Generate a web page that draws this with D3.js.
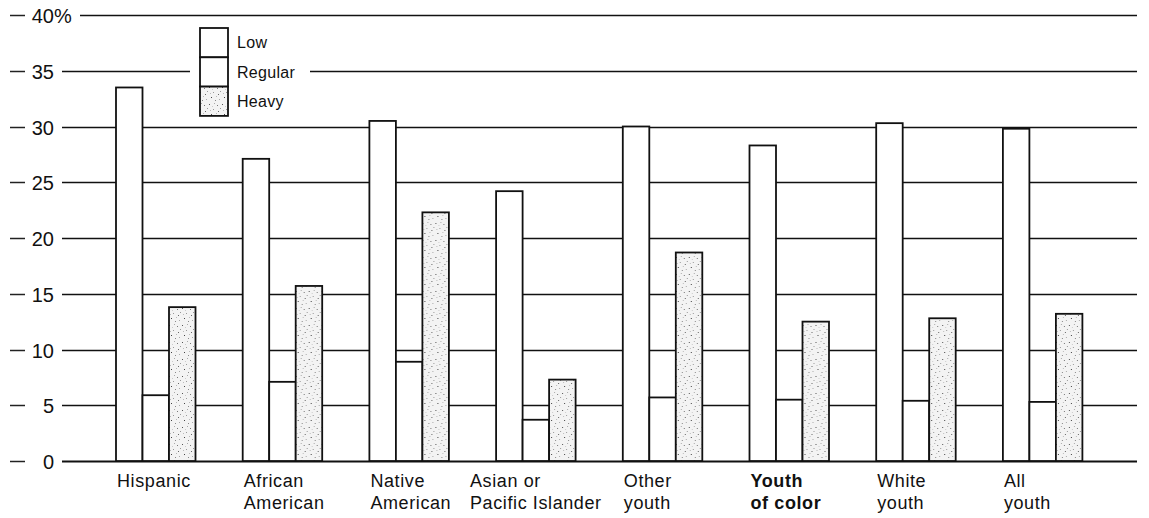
<!DOCTYPE html>
<html>
<head>
<meta charset="utf-8">
<script src="https://cdn.jsdelivr.net/npm/d3@7"></script>
<style>
  html, body { margin: 0; padding: 0; background: #fff; }
  svg { display: block; }
  text { font-family: "Liberation Sans", Arial, Helvetica, sans-serif; fill: #111; }
</style>
</head>
<body>
<script>
const categories = ["Hispanic", "African American", "Native American", "Asian or Pacific Islander", "Other youth", "Youth of color", "White youth", "All youth"];
const categoryLines = [["Hispanic"], ["African", "American"], ["Native", "American"], ["Asian or", "Pacific Islander"], ["Other", "youth"], ["Youth", "of color"], ["White", "youth"], ["All", "youth"]];
const boldCategory = "Youth of color";
const seriesNames = ["Low", "Regular", "Heavy"];
const lowValues = [33.5, 27.1, 30.5, 24.2, 30.0, 28.3, 30.3, 29.8];
const regularValues = [5.9, 7.1, 8.9, 3.7, 5.7, 5.5, 5.4, 5.3];
const heavyValues = [13.8, 15.7, 22.3, 7.3, 18.7, 12.5, 12.8, 13.2];
const yTicks = [0, 5, 10, 15, 20, 25, 30, 35, 40];

const W = 1149, H = 518;
const svg = d3.select("body").append("svg").attr("width", W).attr("height", H);

// stipple pattern for Heavy
const defs = svg.append("defs");
const pat = defs.append("pattern").attr("id", "stipple").attr("patternUnits", "userSpaceOnUse")
  .attr("width", 13).attr("height", 17);
pat.append("rect").attr("width", 13).attr("height", 17).attr("fill", "#f3f3f3");
const dots = [[1,2,"#555"],[5,7,"#999"],[9,3,"#777"],[3,12,"#444"],[11,14,"#aaa"],[7,15,"#888"],[2,8,"#bbb"],[10,9,"#666"],[6,1,"#aaa"],[12,6,"#999"],[4,4,"#ccc"],[8,11,"#bbb"]];
dots.forEach(d => pat.append("rect").attr("x", d[0]).attr("y", d[1]).attr("width", 1).attr("height", 1).attr("fill", d[2]));

const groupStep = 126.7, groupWidth = 79.5, left = 116;
const x0 = d3.scaleBand().domain(categories)
  .range([left, left + groupStep * (categories.length - 1) + groupWidth])
  .paddingInner(1 - groupWidth / groupStep).paddingOuter(0);
const x1 = d3.scaleBand().domain(seriesNames).range([0, x0.bandwidth()]).padding(0);
const y = d3.scaleLinear().domain([0, 40]).range([461, 15]);

const gridRight = 1137;
const fills = { Low: "#fff", Regular: "#fff", Heavy: "url(#stipple)" };

// y axis ticks, labels, gridlines
const labelRight = 54;
const yg = svg.append("g");
yTicks.forEach(t => {
  const yy = Math.round(y(t)) + 0.5;
  yg.append("line").attr("x1", 10).attr("x2", 25).attr("y1", yy).attr("y2", yy)
    .attr("stroke", "#222").attr("stroke-width", 1.5);
  yg.append("text").attr("x", labelRight).attr("y", yy).attr("dy", "0.36em")
    .attr("text-anchor", "end").attr("font-size", 20).text(t);
  let lineStart = 62;
  if (t === 40) {
    yg.append("text").attr("x", labelRight).attr("y", yy).attr("dy", "0.36em")
      .attr("font-size", 20).text("%");
    lineStart = 80;
  }
  yg.append("line").attr("x1", lineStart).attr("x2", gridRight).attr("y1", yy).attr("y2", yy)
    .attr("stroke", "#111").attr("stroke-width", t === 0 ? 1.8 : 1.4);
});

// bars
const data = categories.map((c, i) => ({
  cat: c,
  vals: [
    { key: "Low", v: lowValues[i] },
    { key: "Regular", v: regularValues[i] },
    { key: "Heavy", v: heavyValues[i] }
  ]
}));
const groups = svg.append("g").selectAll("g").data(data).join("g")
  .attr("transform", d => `translate(${x0(d.cat)},0)`);
groups.selectAll("rect").data(d => d.vals).join("rect")
  .attr("x", d => x1(d.key))
  .attr("y", d => y(d.v))
  .attr("width", x1.bandwidth())
  .attr("height", d => y(0) - y(d.v))
  .attr("fill", d => fills[d.key])
  .attr("stroke", "#111").attr("stroke-width", 1.8);

// category labels
const lab = svg.append("g");
categories.forEach((c, i) => {
  const t = lab.append("text").attr("font-size", 18).attr("letter-spacing", 0.6)
    .attr("font-weight", c === boldCategory ? "bold" : "normal");
  categoryLines[i].forEach((ln, k) => {
    t.append("tspan").attr("x", 0).attr("y", 487 + k * 22).text(ln);
  });
  const w = t.node().getBBox().width;
  let xx = x0(c) + 1;
  if (w > x0.bandwidth() * 1.25) xx = x0(c) + x0.bandwidth() / 2 - w / 2;
  t.selectAll("tspan").attr("x", xx);
});

// legend
const lg = svg.append("g");
lg.append("rect").attr("x", 190).attr("y", 60).attr("width", 120).attr("height", 22).attr("fill", "#fff");
const boxX = 200, boxW = 28, boxTop = 28, boxH = 29.3;
seriesNames.forEach((s, i) => {
  lg.append("rect").attr("x", boxX).attr("y", boxTop + i * boxH).attr("width", boxW).attr("height", boxH)
    .attr("fill", fills[s]).attr("stroke", "#111").attr("stroke-width", 1.8);
  lg.append("text").attr("x", 237).attr("y", boxTop + i * boxH + boxH / 2).attr("dy", "0.36em")
    .attr("font-size", 16).attr("letter-spacing", 0.3).text(s);
});
</script>
</body>
</html>
